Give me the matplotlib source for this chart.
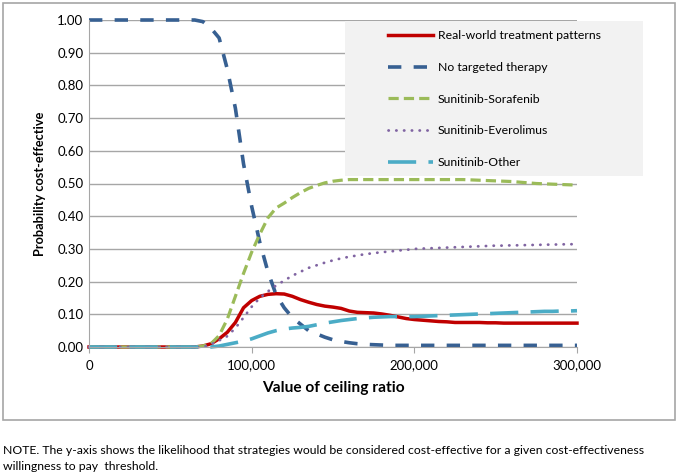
import matplotlib.pyplot as plt
from matplotlib.patches import Rectangle

plt.rcParams['font.family'] = ['Lato', 'DejaVu Sans']

# ceiling ratio, every 5,000 from 0 to 300,000
ceiling = list(range(0, 300001, 5000))

real_world = [0.0] * 14 + [
    0.003, 0.010, 0.025, 0.045, 0.075, 0.120, 0.142, 0.155, 0.161, 0.163,
    0.162, 0.155, 0.145, 0.137, 0.130, 0.125, 0.122, 0.118, 0.110, 0.106,
    0.105, 0.104, 0.101, 0.097, 0.092, 0.087, 0.084, 0.082, 0.080, 0.078,
    0.077, 0.075, 0.075, 0.075, 0.075, 0.074, 0.074, 0.073, 0.073, 0.073,
    0.073, 0.073, 0.073, 0.073, 0.073, 0.073, 0.073]

no_targeted = [1.0] * 14 + [
    0.995, 0.975, 0.945, 0.850, 0.730, 0.560, 0.430, 0.320, 0.230, 0.160,
    0.120, 0.090, 0.070, 0.050, 0.040, 0.030, 0.022, 0.017, 0.013, 0.010,
    0.008, 0.007, 0.006] + [0.005] * 24

sun_sorafenib = [0.0] * 14 + [
    0.003, 0.010, 0.035, 0.085, 0.155, 0.225, 0.290, 0.345, 0.395, 0.425,
    0.440, 0.457, 0.472, 0.485, 0.494, 0.502, 0.507, 0.510, 0.512, 0.512,
    0.512, 0.512, 0.512, 0.512, 0.512, 0.512, 0.512, 0.512, 0.512, 0.512,
    0.512, 0.512, 0.512, 0.511, 0.510, 0.509, 0.508, 0.507, 0.506, 0.504,
    0.502, 0.500, 0.499, 0.498, 0.497, 0.496, 0.495]

sun_everolimus = [0.0] * 15 + [
    0.008, 0.020, 0.033, 0.058, 0.090, 0.123, 0.150, 0.170, 0.188, 0.203,
    0.218, 0.230, 0.242, 0.250, 0.258, 0.265, 0.271, 0.276, 0.280, 0.284,
    0.287, 0.290, 0.292, 0.295, 0.297, 0.300, 0.301, 0.302, 0.303, 0.304,
    0.305, 0.306, 0.307, 0.308, 0.309, 0.310, 0.310, 0.311, 0.311, 0.312,
    0.312, 0.313, 0.313, 0.314, 0.314, 0.315]

sun_other = [0.0] * 16 + [
    0.003, 0.008, 0.013, 0.018, 0.025, 0.034, 0.043, 0.050, 0.055, 0.058,
    0.060, 0.063, 0.068, 0.073, 0.077, 0.081, 0.084, 0.087, 0.089, 0.091,
    0.092, 0.093, 0.093, 0.093, 0.093, 0.094, 0.095, 0.096, 0.097, 0.098,
    0.099, 0.100, 0.101, 0.102, 0.103, 0.104, 0.105, 0.106, 0.107, 0.108,
    0.109, 0.109, 0.110, 0.110, 0.111]

labels = ['Real-world treatment patterns', 'No targeted therapy',
          'Sunitinib-Sorafenib', 'Sunitinib-Everolimus', 'Sunitinib-Other']

W, H = 679, 475
fig = plt.figure(figsize=(W / 100, H / 100), dpi=100)

# outer chart border
fig.patches.append(Rectangle((3 / W, 1 - 420 / H), 672 / W, 417 / H,
                             transform=fig.transFigure, fill=False,
                             edgecolor='#a6a6a6', linewidth=1.2))

ax = fig.add_axes([89 / W, 1 - 347 / H, 488 / W, 327 / H])

ax.plot(ceiling, real_world, color='#c00000', lw=2.5, clip_on=False,
        label=labels[0])
ax.plot(ceiling, no_targeted, color='#376092', lw=2.6, clip_on=False,
        linestyle=(0, (3.7, 3.4)), label=labels[1])
ax.plot(ceiling, sun_sorafenib, color='#9bbb59', lw=2.3, clip_on=False,
        linestyle=(0, (3.2, 1.6)), label=labels[2])
ax.plot(ceiling, sun_everolimus, color='#8064a2', lw=2.0, clip_on=False,
        linestyle=(0, (0.1, 2.7)), dash_capstyle='round', label=labels[3])
ax.plot(ceiling, sun_other, color='#4bacc6', lw=2.6, clip_on=False,
        linestyle=(0, (7.8, 3.4)), label=labels[4])

ax.set_xlim(0, 300000)
ax.set_ylim(0, 1.0)
ax.set_xticks([0, 100000, 200000, 300000])
ax.set_xticklabels(['0', '100,000', '200,000', '300,000'])
ax.set_yticks([i / 10 for i in range(11)])
ax.set_yticklabels(['%.2f' % (i / 10) for i in range(11)])
ax.tick_params(axis='both', labelsize=9.5, colors='#a6a6a6',
               labelcolor='black')
ax.tick_params(axis='y', length=0, pad=4)
ax.tick_params(axis='x', length=4, pad=5)

ax.grid(axis='y', color='#a6a6a6', lw=1.0)
ax.set_axisbelow(True)
for s in ['top', 'right']:
    ax.spines[s].set_visible(False)
ax.spines['left'].set_color('#a6a6a6')
ax.spines['bottom'].set_color('#a6a6a6')

ax.set_ylabel('Probability cost-effective', fontsize=9.2, fontweight='bold',
              labelpad=8)
ax.set_xlabel('Value of ceiling ratio', fontsize=11.2, fontweight='bold',
              labelpad=7)

# legend background panel
ax.add_patch(Rectangle((345 / W, 1 - 176 / H), 298 / W, 155 / H,
                       transform=fig.transFigure, facecolor='#f2f2f2',
                       edgecolor='none', zorder=3, clip_on=False))
leg = ax.legend(loc='upper left', bbox_to_anchor=(388 / W, 1 - 30 / H),
                bbox_transform=fig.transFigure, frameon=False, fontsize=8.8,
                handlelength=3.7, handletextpad=0.4, labelspacing=1.7,
                borderpad=0, borderaxespad=0)
leg.set_zorder(4)

fig.text(3 / W, 1 - 450 / H,
         'NOTE. The y-axis shows the likelihood that strategies would be '
         'considered cost-effective for a given cost-effectiveness',
         fontsize=8.8, va='center')
fig.text(3 / W, 1 - 467 / H, 'willingness to pay  threshold.',
         fontsize=8.8, va='center')

fig.savefig('out.png', dpi=100)
